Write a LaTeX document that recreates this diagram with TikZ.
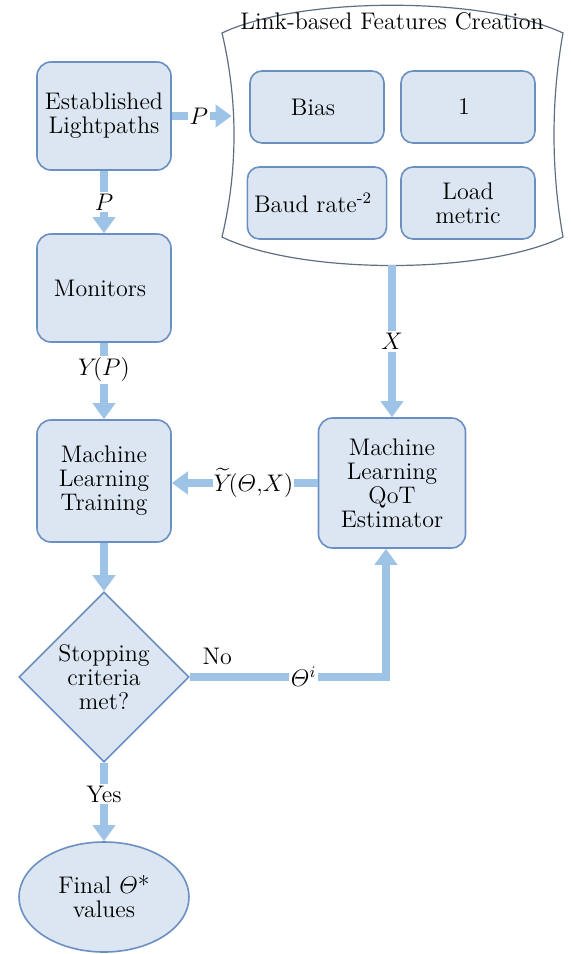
\documentclass[tikz,border=0pt]{standalone}
\usepackage{amssymb}
\usepackage{amsmath}
\usepackage{tikz}
\usetikzlibrary{shapes.geometric,arrows.meta,positioning}
\definecolor{boxfill}{HTML}{DCE6F2}
\definecolor{boxline}{HTML}{6A8FC2}
\definecolor{flowblue}{HTML}{9DC3E6}
\definecolor{bannerline}{HTML}{5F6F82}
\tikzstyle{process} = 
[
	rectangle, 
	rounded corners = 7pt, 
	minimum width = 67pt, 
	minimum height = 54pt, 
	text centered, 
	align = center, 
	draw = boxline, 
	line width = 0.8pt, 
	fill = boxfill
]
\tikzstyle{feature} = 
	[
		process, 
		rounded corners = 6pt, 
		minimum height = 36pt
	]
\tikzstyle{decision} = 
	[
		diamond, 
		aspect = 1, 
		inner sep = 0pt, 
		minimum width = 85pt, 
		minimum height = 85pt, 
		align = center, 
		draw = boxline, 
		line width = 0.8pt, 
		fill = boxfill
	]
\tikzstyle{startstop} = 
	[
		ellipse, 
		minimum width = 85pt, 
		minimum height = 55pt, 
		align = center, 
		draw = boxline, 
		line width = 0.8pt, 
		fill = boxfill
	]
\tikzstyle{banner} = [draw=bannerline, line width=0.6pt]
\tikzstyle{arrow} = [line width=4pt, flowblue, -{Triangle[width=11pt,length=8pt]}]
\tikzstyle{tag} = [fill=white, inner sep=1pt, text=black]

\begin{document}
\begin{tikzpicture}[x=0.5pt, y=-0.5pt, font=\fontsize{12}{12}\selectfont]
	\useasboundingbox (0,0) rectangle (570,954);

	% feature block
	\draw [banner] (222,33) .. controls (300,-4) and (484,-4) .. (563,33)
		.. controls (551,100) and (551,170) .. (563,237)
		.. controls (484,275) and (300,275) .. (222,237)
		.. controls (238,170) and (238,100) .. cycle;

	\node
	(Features)
	[
		minimum width = 160pt, 
		minimum height = 130pt
	]
	at (392,135)
	{};

	\node
	(Title)
	at (392,21)
	{
		Link-based Features Creation
	};

	\node
	(Bias)
	[feature]
	at (317,107)
	{
		Bias
	};

	\node
	(One)
	[
		feature, 
		right of = Bias, 
		node distance = 75.5pt
	]
	{
		1
	};

	\node
	(BaudRate)
	[
		feature, 
		below of = Bias, 
		node distance = 48pt
	]
	{
		Baud rate\textsuperscript{-2}
	};

	\node
	(LoadMetric)
	[
		feature, 
		below of = One, 
		node distance = 48pt
	]
	{
		Load\\metric
	};

	% main column
	\node
	(EstablishedLightpaths)
	[process]
	at (104,116)
	{
		Established\\Lightpaths
	};

	\node
	(Monitors)
	[
		process, 
		below of = EstablishedLightpaths, 
		node distance = 86pt
	]
	{
		Monitors
	};

	\node
	(Training)
	[
		process, 
		minimum height = 61pt, 
		below of = Monitors, 
		node distance = 96.5pt
	]
	{
		Machine\\Learning\\Training
	};

	\node
	(Estimator)
	[
		process, 
		minimum width = 73.5pt, 
		minimum height = 65pt, 
		right of = Training, 
		node distance = 144pt, 
		yshift = -1pt
	]
	{
		Machine\\Learning\\QoT\\Estimator
	};

	\node
	(Stopping)
	[
		decision, 
		below of = Training, 
		node distance = 98pt
	]
	{
		Stopping\\criteria\\met?
	};

	\node
	(FinalValues)
	[
		startstop, 
		below of = Stopping, 
		node distance = 110pt
	]
	{
		Final $\varTheta$*\\values
	};

	\draw [arrow] (EstablishedLightpaths.east) -- node[tag, pos=0.45] {$P$} (EstablishedLightpaths.east -| Features.west);
	\draw [arrow] (EstablishedLightpaths) -- node[tag] {$P$} (Monitors);
	\draw [arrow] (Monitors) -- node[tag, pos=0.35] {$Y\!(P)$} (Training);
	\draw [arrow] (Features.south) -- node[tag] {$X$} (Estimator.north);
	\draw [arrow] (Estimator.west) -- node[tag, inner sep=0.5pt, pos=0.44] {$\widetilde{Y}\!(\varTheta{,}X)$} (Estimator.west -| Training.east);
	\draw [arrow] (Training) -- (Stopping);
	\draw [arrow] (Stopping.east) -| node[tag, pos=0.29] {$\varTheta^{i}$} node[pos=0.07, above=1pt, text=black] {No} ([xshift=-3pt]Estimator.south);
	\draw [arrow] (Stopping) -- node[tag, pos=0.4] {Yes} (FinalValues);

\end{tikzpicture}
\end{document}
